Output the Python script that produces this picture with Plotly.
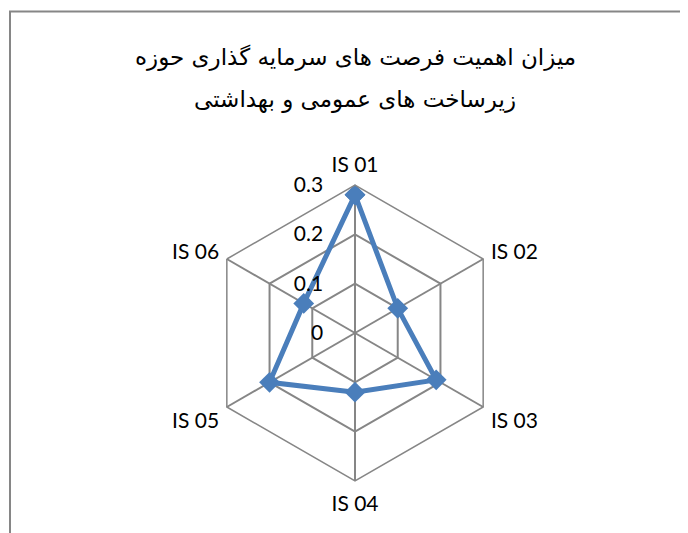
import plotly.graph_objects as go

categories = ["IS 01", "IS 02", "IS 03", "IS 04", "IS 05", "IS 06"]
values = [0.28, 0.10, 0.19, 0.12, 0.20, 0.12]
radial_ticks = [0, 0.1, 0.2, 0.3]

title_lines = ["میزان اهمیت فرصت های سرمایه گذاری حوزه", "زیرساخت های عمومی و بهداشتی"]

W, H = 688, 533
off = 8  # body margin of the html page
cx, cy, rad = 355 - off, 333 - off, 148

fig = go.Figure()
fig.add_trace(go.Scatterpolar(
    r=values + values[:1],
    theta=categories + categories[:1],
    mode="lines+markers",
    line=dict(color="#4A7EBB", width=5),
    marker=dict(symbol="diamond", size=16, color="#4A7EBB"),
    showlegend=False,
))

for i, (txt, ty) in enumerate(zip(title_lines, [57, 100])):
    fig.add_annotation(text=txt, xref="paper", yref="paper", x=cx / W, y=1 - (ty - off) / H,
                       xanchor="center", yanchor="middle", showarrow=False,
                       font=dict(family="DejaVu Sans, Tahoma, sans-serif", size=23, color="black"))

fig.update_layout(
    width=W, height=H,
    margin=dict(l=0, r=0, t=0, b=0),
    paper_bgcolor="white",
    font=dict(family="Lato, Calibri, sans-serif", size=21, color="black"),
    polar=dict(
        domain=dict(x=[(cx - rad) / W, (cx + rad) / W], y=[(H - cy - rad) / H, (H - cy + rad) / H]),
        bgcolor="white",
        gridshape="linear",
        radialaxis=dict(
            range=[0, 0.3], tickvals=radial_ticks, ticktext=["0", "0.1", "0.2", "0.3"],
            angle=90, tickangle=90, side="counterclockwise",
            showline=False, gridcolor="#868686", gridwidth=1.5,
            ticks="outside", ticklen=24, tickcolor="rgba(0,0,0,0)",
            tickfont=dict(size=21),
        ),
        angularaxis=dict(
            rotation=90, direction="clockwise",
            showline=True, linecolor="#868686", linewidth=1.5,
            gridcolor="#868686", gridwidth=1.5,
            ticks="outside", ticklen=4, tickcolor="rgba(0,0,0,0)",
            tickfont=dict(size=21),
        ),
    ),
    shapes=[dict(type="rect", xref="paper", yref="paper",
                 x0=(10 - off) / W, x1=1.05, y0=-0.05, y1=1 - (11.5 - off) / H,
                 line=dict(color="#868686", width=2))],
)

fig.write_html("out.html")
